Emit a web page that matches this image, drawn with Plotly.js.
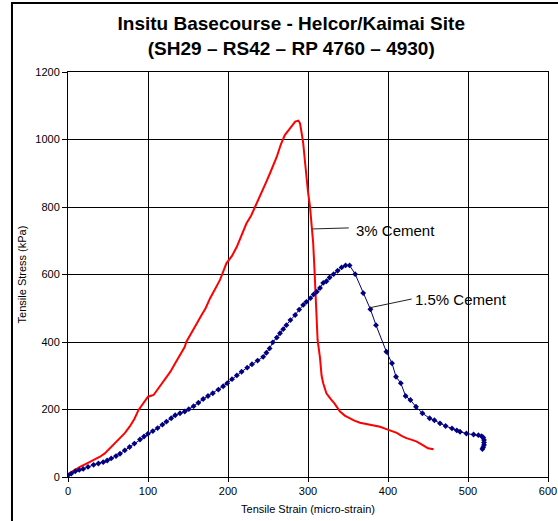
<!DOCTYPE html>
<html>
<head>
<meta charset="utf-8">
<script src="https://cdn.plot.ly/plotly-3.0.1.min.js"></script>
<style>html,body{margin:0;padding:0;background:#fff;}#chart{width:558px;height:521px;}</style>
</head>
<body>
<div id="chart"></div>
<script>
// 3% Cement series (strain in micro-strain, stress in kPa)
const cement3Strain = [0,8,15,25,32,40,46,52,58,65,71,77,83,88,94,100,107,114,121,128,134,140,146,148,155,161,167,172,177.5,184,190,198,205,211,217,223,229,234,240,244,248,252.5,257,261,266,271,277.5,284,288,290,292,294,296,298,300,302.5,304.5,306.5,308,309,310.5,312,315,317,319,323,328,333,340,346,352.5,358,365,373,382,390,398,405,411,417,423,430,436,443,450,457];
const cement3Stress = [8,20,30,42,50,60,70,85,98,115,130,149,172,198,218,238,243,265,287,312,337,360,386,401,428,455,480,500,529,556,584,633,655,682,715,751,775,801,830,850,875,900,925,949,985,1013,1033,1053,1056,1048,1020,989,940,890,845,801,745,692,620,560,470,406,353,300,278,248,232,218,194,182,174,167,161,157,154,149,142,137,131,122,115,110,105,95,85,82];

// 1.5% Cement series
const cement15Strain = [0,4,9,14,19,25,32,38,44,49,54,60,65,71,77,83,90,95,100,106,112,118,123,129,134,140,146,151,157,163,169,175,181,188,194,199,205,211,217,224,230,237,244,248,252,256,261,265,269,273,278,284,289,294,298,303,307,311,315,319,323,327,332,337,342,347,352,359,369,378,385,398,405,410,416,422,428,435,443,452,458,465,472,480,486,490,498,507,513,517,519,520,520,520,519,518];
const cement15Stress = [5,10,17,21,24,30,36,40,44,49,55,62,69,79,89,99,111,120,128,136,145,155,164,174,183,189,194,201,210,220,231,240,248,259,269,278,290,301,312,324,334,345,356,368,381,399,413,426,438,450,465,480,496,510,519,530,541,549,560,575,580,591,601,611,621,627,627,601,545,497,450,371,337,297,278,240,228,208,189,174,168,159,151,144,138,134,129,126,124,121,117,110,102,95,88,83];

// Label texts and their anchor points (curve point, label point) in data units
const labelTexts = ['3% Cement', '1.5% Cement'];
const labelTipStrain = [305.6, 377.5];
const labelTipStress = [735, 501.6];
const labelTailStrain = [351, 429.6];
const labelTailStress = [738, 527.4];
const labelTextStrain = [357, 431];
const labelTextStress = [730, 527];

const xTicks = [0,100,200,300,400,500,600];
const yTicks = [0,200,400,600,800,1000,1200];

const FONT = 'Liberation Sans, Arial, sans-serif';

const traces = [
  {
    x: cement3Strain, y: cement3Stress, mode: 'lines', name: '3% Cement',
    line: {color: '#ff0000', width: 2}
  },
  {
    x: cement15Strain, y: cement15Stress, mode: 'lines+markers', name: '1.5% Cement',
    line: {color: '#000080', width: 1},
    marker: {symbol: 'diamond', size: 4.5, color: '#000080'}
  }
];

const annotations = labelTexts.map((t, i) => ({
  x: labelTextStrain[i], y: labelTextStress[i], xref: 'x', yref: 'y',
  text: t, showarrow: false, xanchor: 'left', yanchor: 'middle',
  font: {size: 15, family: FONT, color: '#000'}
}));

const shapes = labelTexts.map((t, i) => ({
  type: 'line', xref: 'x', yref: 'y',
  x0: labelTipStrain[i], y0: labelTipStress[i],
  x1: labelTailStrain[i], y1: labelTailStress[i],
  line: {color: '#222', width: 1}
}));

shapes.push({
  type: 'rect', xref: 'paper', yref: 'paper',
  x0: -0.1167, x1: 1.03, y0: -0.13, y1: 1.1704,
  line: {color: '#000', width: 2}, fillcolor: 'rgba(0,0,0,0)', layer: 'below'
});

const layout = {
  width: 558, height: 521,
  margin: {l: 68, r: 10, t: 72, b: 44},
  paper_bgcolor: '#ffffff', plot_bgcolor: '#ffffff',
  showlegend: false,
  font: {family: FONT, color: '#000', size: 11},
  title: {
    text: '<b>Insitu Basecourse - Helcor/Kaimai Site<br>(SH29 – RS42 – RP 4760 – 4930)</b>',
    font: {family: FONT, size: 19, color: '#000'},
    x: 0.522, xanchor: 'center', y: 0.942, yanchor: 'top'
  },
  xaxis: {
    range: [0, 600], tickvals: xTicks, ticktext: xTicks.map(String),
    showgrid: true, gridcolor: '#000', gridwidth: 1,
    showline: true, linecolor: '#000', linewidth: 1, mirror: true,
    ticks: 'outside', ticklen: 4, tickcolor: '#000',
    zeroline: false, tickfont: {size: 11, family: FONT},
    title: {text: 'Tensile Strain (micro-strain)', font: {size: 11, family: FONT}, standoff: 9}
  },
  yaxis: {
    range: [0, 1200], tickvals: yTicks, ticktext: yTicks.map(String),
    showgrid: true, gridcolor: '#000', gridwidth: 1,
    showline: true, linecolor: '#000', linewidth: 1, mirror: true,
    ticks: 'outside', ticklen: 5, tickcolor: '#000',
    zeroline: false, tickfont: {size: 11, family: FONT},
    title: {text: 'Tensile Stress (kPa)', font: {size: 11, family: FONT}, standoff: 6}
  },
  annotations: annotations,
  shapes: shapes
};

Plotly.newPlot('chart', traces, layout, {displayModeBar: false, staticPlot: true});
</script>
</body>
</html>
